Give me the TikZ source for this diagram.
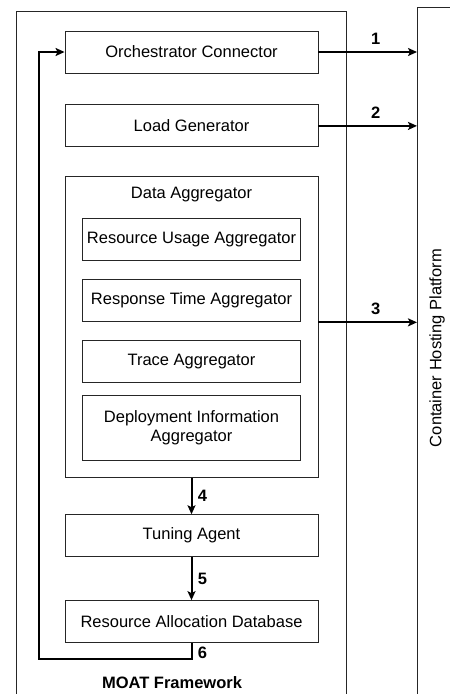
\documentclass[tikz,border=0pt]{standalone}
\usepackage{fontspec}
\setmainfont{Liberation Sans}
\usetikzlibrary{positioning,arrows.meta}

\tikzset{
  box/.style={rectangle, draw=black!85, line width=0.9pt, minimum width=253pt, minimum height=42pt, inner sep=0pt, align=center},
  subbox/.style={box, minimum width=218pt},
  flow/.style={-{Stealth[length=9pt,width=8pt,inset=2pt]}, line width=2pt},
  num/.style={font=\fontsize{16.5}{19}\selectfont\bfseries}
}

\begin{document}
\begin{tikzpicture}[x=1pt, y=1pt, font=\fontsize{16.5}{19}\selectfont]
  \useasboundingbox (0,0) rectangle (450,-694);
  \clip (0,0) rectangle (450,-694);

  % outer frames
  \node[draw=black!85, line width=0.9pt, anchor=north west, minimum width=330pt, minimum height=720pt, inner sep=0pt] (moat) at (16,-11) {};
  \node[draw=black!85, line width=0.9pt, anchor=north west, minimum width=60pt, minimum height=720pt, inner sep=0pt] (chp) at (417,-7) {};
  \node[rotate=90] (chplabel) at (437,-348) {Container Hosting Platform};

  % MOAT components
  \node[box] (oc) at (191.5,-52) {Orchestrator Connector};
  \node[box, below=31pt of oc] (lg) {Load Generator};
  \node[box, minimum height=301pt, below=29pt of lg] (da) {};
  \node[below=7pt of da.north] (dalabel) {Data Aggregator};
  \node[subbox, below=42pt of da.north] (rua) {Resource Usage Aggregator};
  \node[subbox, below=18pt of rua] (rta) {Response Time Aggregator};
  \node[subbox, below=18pt of rta] (ta) {Trace Aggregator};
  \node[subbox, minimum height=65pt, below=12pt of ta] (dia) {Deployment Information\\Aggregator};
  \node[box, below=36pt of da] (tune) {Tuning Agent};
  \node[box, below=43pt of tune] (rad) {Resource Allocation Database};
  \node[num] (moatlabel) at (172,-683) {MOAT Framework};
  \coordinate (back) at (39,-659);

  % connectors
  \draw[flow] (oc.east) -- node[num, pos=0.58, above=3pt] {1} (oc.east -| chp.west);
  \draw[flow] (lg.east) -- node[num, pos=0.58, above=3pt] {2} (lg.east -| chp.west);
  \draw[flow] ([yshift=-146pt]da.north east) -- node[num, pos=0.58, above=3pt] {3} ([yshift=-146pt]da.north east -| chp.west);
  \draw[flow] (da) -- node[num, right=2pt] {4} (tune);
  \draw[flow] (tune) -- node[num, right=2pt] {5} (rad);
  \draw[flow, line join=miter] (rad.south) |- (back) node[num, pos=0.3, right=2pt] {6} |- (oc.west);
\end{tikzpicture}
\end{document}
